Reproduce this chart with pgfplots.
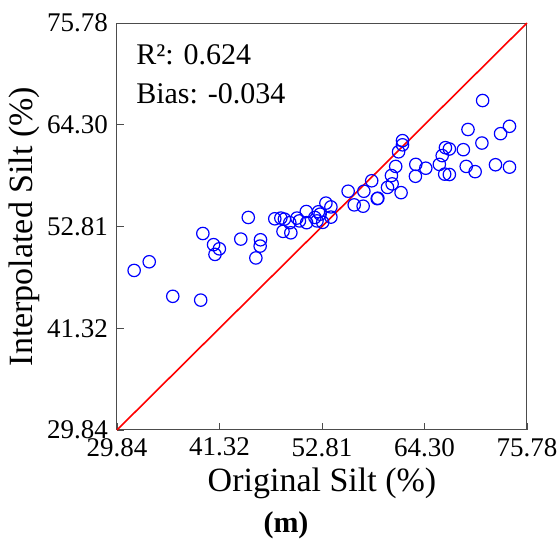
\documentclass[border=0pt]{standalone}
\usepackage{pgfplots}
\pgfplotsset{compat=1.18}
\usepackage{fontspec}
\setmainfont{Liberation Serif}
\begin{document}
\begin{tikzpicture}
\useasboundingbox (-58.5pt,-58pt) rectangle (221pt,215pt);
\begin{axis}[
  scale only axis,
  width=205pt, height=203.5pt,
  xmin=29.84, xmax=75.78, ymin=29.84, ymax=75.78,
  xtick={29.84,41.32,52.81,64.30,75.78},
  ytick={29.84,41.32,52.81,64.30,75.78},
  xticklabels={29.84,41.32,52.81,64.30,75.78},
  yticklabels={29.84,41.32,52.81,64.30,75.78},
  tick align=inside,
  xtick pos=lower, ytick pos=left,
  major tick length=3.5pt,
  tick style={black!70, line width=0.4pt},
  axis line style={black!70, line width=0.5pt},
  ticklabel style={font=\fontsize{13.5}{15}\selectfont},
  /pgf/number format/assume math mode=true,
  xticklabel style={yshift=-0.5pt},
  yticklabel style={xshift=-1pt},
  label style={font=\fontsize{17}{19}\selectfont},
  xlabel={Original Silt (\%)},
  ylabel={Interpolated Silt (\%)},
  xlabel style={yshift=1pt},
  ylabel style={yshift=-3pt},
  clip=false,
]
\addplot[red, line width=0.8pt] coordinates {(29.84,29.84) (75.78,75.78)};
\addplot[only marks, mark=o, mark size=3.1pt, mark options={blue, line width=0.6pt}] coordinates {
(31.76,47.85) (33.45,48.83) (36.09,44.93) (39.22,44.50) (39.46,52.02)
(40.66,50.76) (41.31,50.29) (40.82,49.66) (43.71,51.39) (44.55,53.83)
(45.92,51.31) (45.88,50.60) (45.40,49.26) (47.52,53.68) (48.20,53.76)
(48.60,53.64) (48.44,52.26) (49.32,52.10) (49.20,53.24) (50.00,53.76)
(50.28,53.44) (51.05,54.50) (51.09,53.24) (52.01,53.83) (52.41,54.47)
(52.25,53.44) (52.89,53.28) (53.25,55.45) (53.81,55.02) (53.81,53.87)
(55.74,56.79) (56.42,55.25) (57.42,55.10) (57.50,56.79) (58.38,57.97)
(59.07,56.00) (60.15,57.22) (60.59,58.56) (60.67,57.62) (61.07,59.59)
(61.67,56.63) (61.39,61.24) (61.83,62.50) (61.83,62.03) (63.32,59.82)
(63.28,58.48) (64.44,59.39) (65.96,59.82) (66.28,60.81) (66.64,61.71)
(67.08,61.56) (66.56,58.72) (67.08,58.68) (68.65,61.48) (69.17,63.76)
(68.97,59.59) (69.97,59.00) (70.73,62.23) (70.81,67.03) (72.25,59.78)
(72.82,63.29) (73.82,64.12) (73.82,59.51) (52.60,54.20) (59.00,55.95)
};
\node[anchor=base west, inner sep=0pt, font=\fontsize{15}{17}\selectfont] at (rel axis cs:0.046,0.897) {R²: 0.624};
\node[anchor=base west, inner sep=0pt, font=\fontsize{15}{17}\selectfont] at (rel axis cs:0.046,0.803) {Bias: -0.034};
\end{axis}
\node[font=\fontsize{15}{17}\selectfont\bfseries] at (84.5pt,-47.5pt) {(m)};
\end{tikzpicture}
\end{document}
